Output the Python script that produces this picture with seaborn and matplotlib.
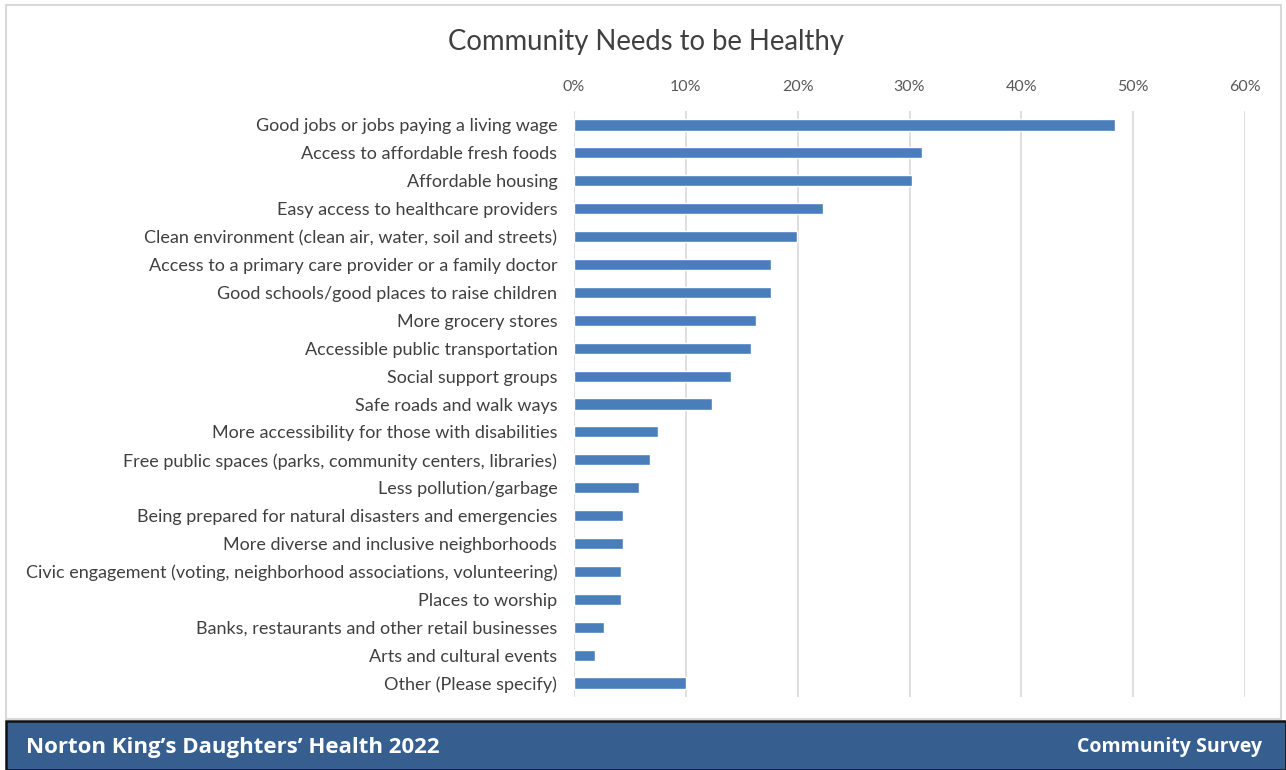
import matplotlib
matplotlib.use("Agg")
import matplotlib.pyplot as plt
import seaborn as sns
import pandas as pd
from matplotlib.patches import Rectangle
from matplotlib.ticker import FuncFormatter

categories = [
    "Good jobs or jobs paying a living wage",
    "Access to affordable fresh foods",
    "Affordable housing",
    "Easy access to healthcare providers",
    "Clean environment (clean air, water, soil and streets)",
    "Access to a primary care provider or a family doctor",
    "Good schools/good places to raise children",
    "More grocery stores",
    "Accessible public transportation",
    "Social support groups",
    "Safe roads and walk ways",
    "More accessibility for those with disabilities",
    "Free public spaces (parks, community centers, libraries)",
    "Less pollution/garbage",
    "Being prepared for natural disasters and emergencies",
    "More diverse and inclusive neighborhoods",
    "Civic engagement (voting, neighborhood associations, volunteering)",
    "Places to worship",
    "Banks, restaurants and other retail businesses",
    "Arts and cultural events",
    "Other (Please specify)",
]
values = [48.4, 31.1, 30.2, 22.3, 19.9, 17.6, 17.6, 16.3, 15.8, 14.0, 12.3,
          7.5, 6.8, 5.8, 4.35, 4.35, 4.2, 4.2, 2.7, 1.85, 10.0]
tick_values = [0, 10, 20, 30, 40, 50, 60]

title = "Community Needs to be Healthy"
footer_left = "Norton King\u2019s Daughters\u2019 Health 2022"
footer_right = "Community Survey"

df = pd.DataFrame({"category": categories, "value": values})

sns.set_theme(style="white")
plt.rcParams['font.family'] = ['Lato', 'DejaVu Sans']

W, H = 1286, 770
fig = plt.figure(figsize=(W / 100, H / 100), dpi=100)

# chart border
fig.patches.append(Rectangle((6 / W, 1 - 719 / H), (1281 - 6) / W, (719 - 5) / H,
                             transform=fig.transFigure, facecolor="white",
                             edgecolor="#d9d9d9", linewidth=1.5, zorder=-2))
# footer band
fig.patches.append(Rectangle((6 / W, 0), (W - 6) / W, (770 - 721) / H,
                             transform=fig.transFigure, facecolor="#365E8F",
                             edgecolor="#111111", linewidth=1.8, zorder=-1))

ax = fig.add_axes([574 / W, 1 - 697 / H, (1245 - 574) / W, (697 - 111) / H])
ax.set_facecolor("none")
sns.barplot(data=df, x="value", y="category", orient="h", color="#4A7EBB",
            saturation=1, width=0.4, ax=ax)

ax.set_xlim(0, 60)
ax.set_xticks(tick_values)
ax.xaxis.set_major_formatter(FuncFormatter(lambda v, p: f"{v:.0f}%"))
ax.xaxis.tick_top()
ax.tick_params(axis="x", length=0, pad=12, labelsize=11.5, labelcolor="#595959")
ax.tick_params(axis="y", length=0, pad=12, labelsize=13, labelcolor="#404040")
ax.grid(axis="x", color="#d9d9d9", linewidth=1.2)
ax.set_axisbelow(True)
for s in ax.spines.values():
    s.set_visible(False)
ax.set_xlabel("")
ax.set_ylabel("")

fig.text(646 / W, 1 - 42 / H, title, ha="center", va="center",
         fontsize=19.8, color="#404040")
fig.text(26 / W, 1 - 747 / H, footer_left, ha="left", va="center",
         fontsize=16, fontweight="bold", color="white", family=["Open Sans", "DejaVu Sans"])
fig.text(1262 / W, 1 - 747 / H, footer_right, ha="right", va="center",
         fontsize=14, fontweight="bold", color="white", family=["Open Sans", "DejaVu Sans"])

fig.savefig("out.png", dpi=100)
